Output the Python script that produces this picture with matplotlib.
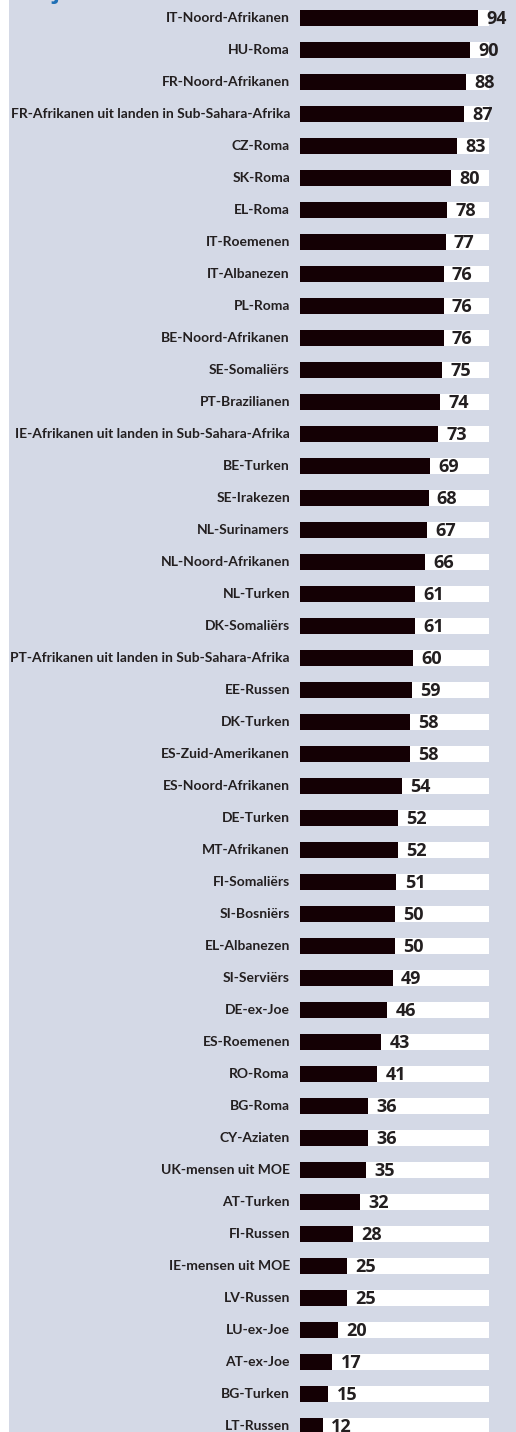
import matplotlib.pyplot as plt
from matplotlib.patches import Rectangle
from matplotlib import font_manager

categories = [
    "IT-Noord-Afrikanen", "HU-Roma", "FR-Noord-Afrikanen",
    "FR-Afrikanen uit landen in Sub-Sahara-Afrika", "CZ-Roma", "SK-Roma",
    "EL-Roma", "IT-Roemenen", "IT-Albanezen", "PL-Roma", "BE-Noord-Afrikanen",
    "SE-Somaliërs", "PT-Brazilianen",
    "IE-Afrikanen uit landen in Sub-Sahara-Afrika", "BE-Turken", "SE-Irakezen",
    "NL-Surinamers", "NL-Noord-Afrikanen", "NL-Turken", "DK-Somaliërs",
    "PT-Afrikanen uit landen in Sub-Sahara-Afrika", "EE-Russen", "DK-Turken",
    "ES-Zuid-Amerikanen", "ES-Noord-Afrikanen", "DE-Turken", "MT-Afrikanen",
    "FI-Somaliërs", "SI-Bosniërs", "EL-Albanezen", "SI-Serviërs", "DE-ex-Joe",
    "ES-Roemenen", "RO-Roma", "BG-Roma", "CY-Aziaten", "UK-mensen uit MOE",
    "AT-Turken", "FI-Russen", "IE-mensen uit MOE", "LV-Russen", "LU-ex-Joe",
    "AT-ex-Joe", "BG-Turken", "LT-Russen",
]
values = [94, 90, 88, 87, 83, 80, 78, 77, 76, 76, 76, 75, 74, 73, 69, 68, 67,
          66, 61, 61, 60, 59, 58, 58, 54, 52, 52, 51, 50, 50, 49, 46, 43, 41,
          36, 36, 35, 32, 28, 25, 25, 20, 17, 15, 12]

W, H = 516, 1432
bg = "#d4d9e6"
bar_color = "#140004"
text_color = "#231f20"

installed = {f.name for f in font_manager.fontManager.ttflist}
label_family = "Lato" if "Lato" in installed else "DejaVu Sans"

fig = plt.figure(figsize=(W / 100, H / 100), dpi=100, facecolor=bg)
fig.patches.append(Rectangle((0, 0), 9 / W, 1, transform=fig.transFigure,
                             facecolor="white", edgecolor="none"))

# cut-off blue title at the very top
fig.text(52 / W, 1 + 1 / H, "j", color="#1f6fb5", fontsize=16,
         fontweight="bold", ha="left", va="baseline", family="Open Sans")

ax = fig.add_axes([300 / W, 0, 189 / W, 1])
ax.set_facecolor("none")
n = len(categories)
pos = list(range(n))
ax.barh(pos, [100] * n, height=0.5, color="white", edgecolor="none")
ax.barh(pos, values, height=0.5, color=bar_color, edgecolor="none")
ax.set_xlim(0, 100)
ax.set_ylim((H - 18) / 32, -18 / 32)
ax.axis("off")

labels = []
for i, (c, v) in enumerate(zip(categories, values)):
    t = ax.annotate(c, xy=(0, i), xytext=(-7.2, 0), textcoords="offset points",
                    ha="right", va="center", fontsize=10, fontweight="bold",
                    color=text_color, family=[label_family, "DejaVu Sans"],
                    annotation_clip=False)
    labels.append(t)
    ax.annotate(str(v), xy=(v, i), xytext=(6, -1), textcoords="offset points",
                ha="left", va="center", fontsize=13, fontweight="bold",
                color=text_color, family=["Open Sans", "DejaVu Sans"],
                annotation_clip=False)

# shrink label font so the longest label fits between x=5 and x=290
renderer = fig.canvas.get_renderer()
widest = max(t.get_window_extent(renderer).width for t in labels)
size = 10 * min(1.0, 284 / widest)
for t in labels:
    t.set_fontsize(size)

fig.savefig("out.png", dpi=100, facecolor=bg)
